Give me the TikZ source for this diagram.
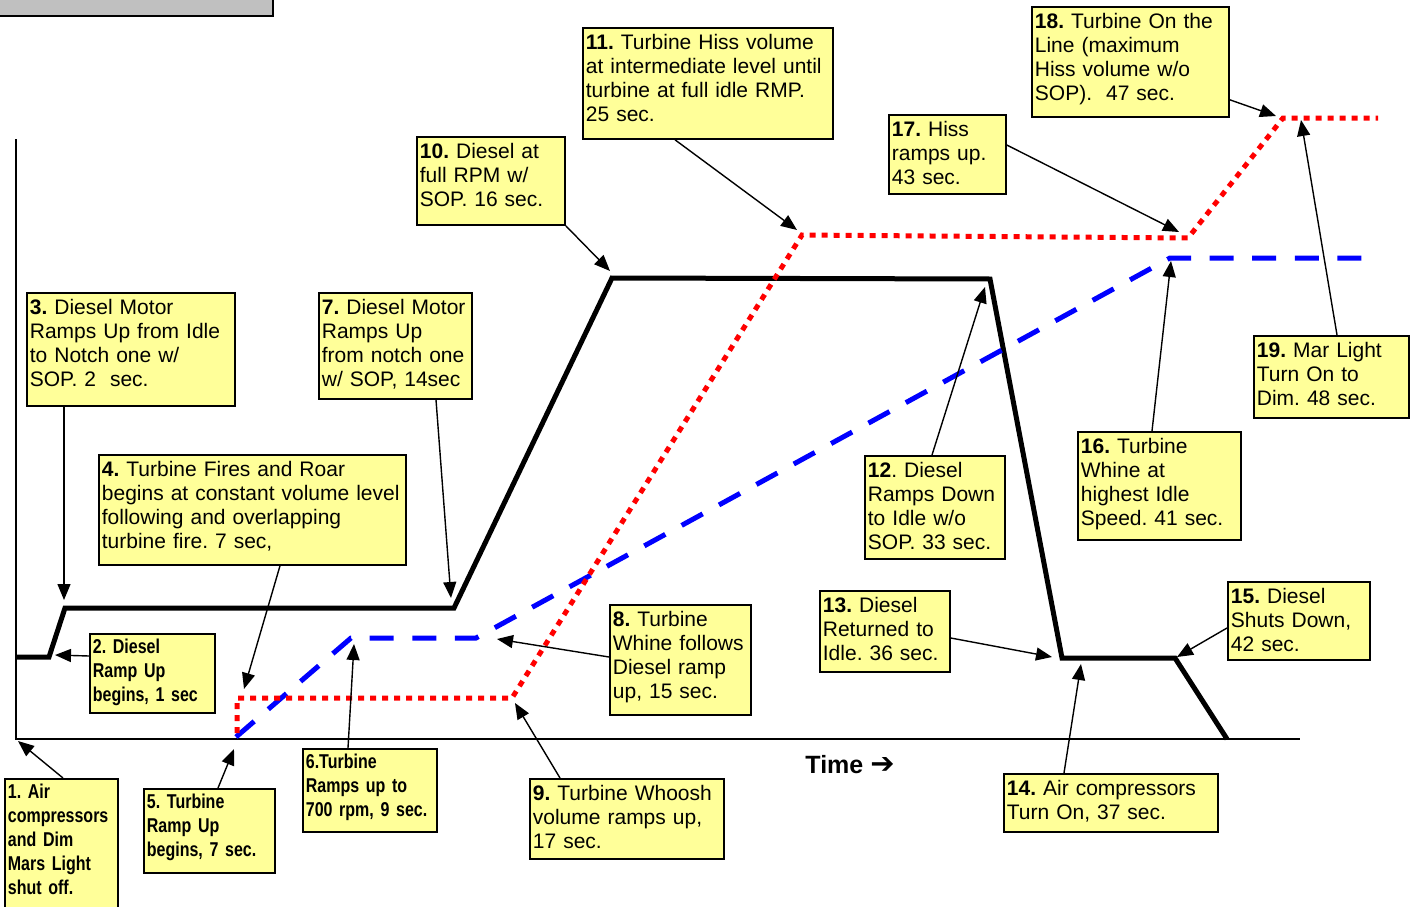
\documentclass[tikz,border=0pt]{standalone}
\usepackage{fontspec}
\setmainfont{Liberation Sans}
\newfontfamily\condfont[FakeStretch=0.8]{Liberation Sans}
\newfontfamily\arrowfont{DejaVu Sans}
\usetikzlibrary{arrows.meta}
\definecolor{noteyellow}{RGB}{255,255,153}
\definecolor{bargray}{RGB}{192,192,192}
\frenchspacing
\hyphenpenalty=10000

\begin{document}
\begin{tikzpicture}[x=1pt,y=-1pt,
    note/.style={draw, line width=1.8pt, fill=noteyellow, anchor=north west,
        align=left, inner xsep=3pt, inner ysep=5pt, text height=17pt,
        font=\fontsize{21}{24}\selectfont},
    cnote/.style={note, text height=15pt,
        font=\condfont\bfseries\fontsize{20}{24}\selectfont},
    pointer/.style={line width=1.4pt, -{Triangle[length=16pt,width=13pt]}},
    diesel/.style={line width=5pt, line join=miter},
    whine/.style={blue, line width=5pt, dash pattern=on 24pt off 18.6pt},
    hiss/.style={red, line width=5pt, dash pattern=on 6pt off 6pt}]
    \useasboundingbox (0,0) rectangle (1414,907);

    % Grey bar, top left
    \draw[line width=1.8pt, fill=bargray] (-5,-5) rectangle (273,16);

    % Axes
    \coordinate (origin) at (16,739);
    \draw[line width=2pt] (16,139) -- (origin) -- (1300,739);
    \node[font=\bfseries\fontsize{25}{28}\selectfont] (time) at (850,765)
        {Time {\arrowfont\fontsize{29}{29}\selectfont ➔}};

    % Diesel RPM
    \draw[diesel] (16,657) -- (49,657) -- (65,608) -- (454,608) -- (612,278)
        -- (990,279) -- (1062,658) -- (1175,658) -- (1227,739);
    % Turbine whine
    \draw[whine] (236,737) -- (351,638) -- (476,638) -- (1170,258) -- (1362,258);
    % Turbine hiss
    \draw[hiss] (237,733) -- (237,698) -- (512,698) -- (802,235) -- (1188,238)
        -- (1283,118) -- (1378,118);

    % Arrow tips
    \coordinate (t1) at (18,741);
    \coordinate (t2) at (55,655);
    \coordinate (t3) at (64,600);
    \coordinate (t4) at (244,689);
    \coordinate (t5) at (234,749);
    \coordinate (t6) at (354,644);
    \coordinate (t7) at (451,598);
    \coordinate (t8) at (497,639);
    \coordinate (t9) at (515,703);
    \coordinate (t10) at (610,271);
    \coordinate (t11) at (797,230);
    \coordinate (t12) at (985,287);
    \coordinate (t13) at (1052,657);
    \coordinate (t14) at (1081,664);
    \coordinate (t15) at (1177,657);
    \coordinate (t16) at (1171,261);
    \coordinate (t17) at (1179,232);
    \coordinate (t18) at (1276,116);
    \coordinate (t19) at (1301,120);

    % Notes
    \node[cnote, text width=107pt, text depth=115pt] (n1) at (4,778)
        {1. Air\\compressors\\and Dim\\Mars Light\\shut off.};
    \node[cnote, text width=119pt, text depth=54pt] (n2) at (89,633)
        {2. Diesel\\Ramp Up\\begins, 1 sec};
    \node[note, text width=202pt, text depth=86pt] (n3) at (26,292)
        {\textbf{3.} Diesel Motor\\Ramps Up from Idle\\to Notch one w/\\SOP. 2\ \ sec.};
    \node[note, text width=301pt, text depth=83pt] (n4) at (98,454)
        {\textbf{4.} Turbine Fires and Roar\\begins at constant volume level\\following and overlapping\\turbine fire. 7 sec,};
    \node[cnote, text width=125pt, text depth=59pt] (n5) at (143,788)
        {5. Turbine\\Ramp Up\\begins, 7 sec.};
    \node[cnote, text width=128pt, text depth=58pt] (n6) at (302,748)
        {6.Turbine\\Ramps up to\\700 rpm, 9 sec.};
    \node[note, text width=147pt, text depth=79pt] (n7) at (318,292)
        {\textbf{7.} Diesel Motor\\Ramps Up\\from notch one\\w/ SOP, 14sec};
    \node[note, text width=135pt, text depth=83pt] (n8) at (609,604)
        {\textbf{8.} Turbine\\Whine follows\\Diesel ramp\\up, 15 sec.};
    \node[note, text width=188pt, text depth=53pt] (n9) at (529,778)
        {\textbf{9.} Turbine Whoosh\\volume ramps up,\\17 sec.};
    \node[note, text width=142pt, text depth=61pt] (n10) at (416,136)
        {\textbf{10.} Diesel at\\full RPM w/\\SOP. 16 sec.};
    \node[note, text width=244pt, text depth=84pt] (n11) at (582,27)
        {\textbf{11.} Turbine Hiss volume\\at intermediate level until\\turbine at full idle RMP.\\25 sec.};
    \node[note, text width=134pt, text depth=76pt] (n12) at (864,455)
        {\textbf{12}. Diesel\\Ramps Down\\to Idle w/o\\SOP. 33 sec.};
    \node[note, text width=124pt, text depth=54pt] (n13) at (819,590)
        {\textbf{13.} Diesel\\Returned to\\Idle. 36 sec.};
    \node[note, text width=208pt, text depth=31pt] (n14) at (1003,773)
        {\textbf{14.} Air compressors\\Turn On, 37 sec.};
    \node[note, text width=136pt, text depth=51pt] (n15) at (1227,581)
        {\textbf{15.} Diesel\\Shuts Down,\\42 sec.};
    \node[note, text width=157pt, text depth=81pt] (n16) at (1077,431)
        {\textbf{16.} Turbine\\Whine at\\highest Idle\\Speed. 41 sec.};
    \node[note, text width=111pt, text depth=52pt] (n17) at (888,114)
        {\textbf{17.} Hiss\\ramps up.\\43 sec.};
    \node[note, text width=191pt, text depth=83pt] (n18) at (1031,6)
        {\textbf{18.} Turbine On the\\Line (maximum\\Hiss volume w/o\\SOP).\ \ 47 sec.};
    \node[note, text width=149pt, text depth=55pt] (n19) at (1253,335)
        {\textbf{19.} Mar Light\\Turn On to\\Dim. 48 sec.};

    % Pointers
    \draw[pointer] ([xshift=59pt]n1.north west) -- (t1);
    \draw[pointer] ([yshift=-23pt]n2.north west) -- (t2);
    \draw[pointer] ([xshift=38pt]n3.south west) -- (t3);
    \draw[pointer] ([xshift=182pt]n4.south west) -- (t4);
    \draw[pointer] ([xshift=75pt]n5.north west) -- (t5);
    \draw[pointer] ([xshift=46pt]n6.north west) -- (t6);
    \draw[pointer] ([xshift=118pt]n7.south west) -- (t7);
    \draw[pointer] ([yshift=-53pt]n8.north west) -- (t8);
    \draw[pointer] ([xshift=31pt]n9.north west) -- (t9);
    \draw[pointer] (n10.south east) -- (t10);
    \draw[pointer] ([xshift=93pt]n11.south west) -- (t11);
    \draw[pointer] ([xshift=68pt]n12.north west) -- (t12);
    \draw[pointer] ([yshift=-48pt]n13.north east) -- (t13);
    \draw[pointer] ([xshift=61pt]n14.north west) -- (t14);
    \draw[pointer] ([yshift=-47pt]n15.north west) -- (t15);
    \draw[pointer] ([xshift=75pt]n16.north west) -- (t16);
    \draw[pointer] ([yshift=-31pt]n17.north east) -- (t17);
    \draw[pointer] ([yshift=18pt]n18.south east) -- (t18);
    \draw[pointer] ([xshift=84pt]n19.north west) -- (t19);
\end{tikzpicture}
\end{document}
